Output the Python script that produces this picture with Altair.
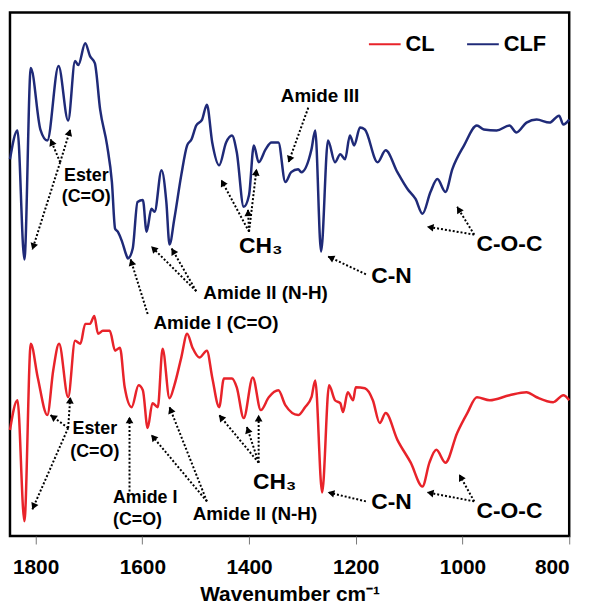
import math
import altair as alt
import pandas as pd

# ---- spectra (wavenumber cm-1, relative intensity) ----
clf_wn = [1848, 1834, 1821, 1809, 1791, 1778, 1757, 1739, 1726, 1720, 1707, 1698, 1689, 1679,
          1666, 1657, 1651, 1646, 1638, 1629, 1627, 1618, 1609, 1599, 1592, 1583, 1577, 1564,
          1555, 1549, 1540, 1527, 1516, 1508, 1499, 1488, 1479, 1469, 1456, 1443, 1432, 1423,
          1410, 1400, 1391, 1382, 1369, 1358, 1345, 1332, 1321, 1308, 1302, 1283, 1276, 1265,
          1252, 1239, 1229, 1220, 1211, 1203, 1192, 1183, 1159, 1144, 1122, 1103, 1088, 1075,
          1060, 1047, 1032, 1019, 997, 973, 960, 936, 912, 899, 880, 861, 837, 819, 811, 800]
clf_val = [380, 409, 279, 472, 410, 399, 474, 419, 479, 475, 497, 484, 477, 430,
           394, 357, 310, 307, 297, 282, 280, 290, 337, 339, 307, 330, 327, 369,
           337, 294, 320, 364, 394, 400, 414, 420, 435, 397, 374, 397, 404, 387,
           332, 344, 394, 377, 390, 397, 397, 357, 367, 370, 367, 390, 409, 287,
           399, 377, 385, 380, 404, 394, 412, 410, 377, 389, 367, 350, 340, 325,
           347, 360, 347, 370, 394, 414, 410, 409, 414, 407, 417, 420, 417, 424, 415, 420]

cl_wn = [1848, 1834, 1821, 1809, 1796, 1778, 1767, 1756, 1739, 1726, 1716, 1707, 1698, 1690,
         1683, 1674, 1661, 1651, 1642, 1633, 1620, 1607, 1599, 1590, 1581, 1571, 1562, 1549,
         1540, 1527, 1516, 1506, 1493, 1479, 1469, 1456, 1447, 1432, 1423, 1410, 1393, 1378,
         1363, 1345, 1332, 1308, 1295, 1283, 1276, 1263, 1250, 1239, 1229, 1224, 1215, 1205,
         1200, 1183, 1168, 1155, 1144, 1122, 1097, 1075, 1062, 1049, 1032, 1010, 991, 973,
         949, 912, 880, 861, 830, 811, 800]
cl_val = [107, 137, 15, 194, 160, 122, 167, 194, 140, 197, 194, 214, 214, 222,
          204, 207, 207, 187, 190, 150, 130, 152, 147, 109, 134, 130, 189, 139,
          152, 180, 204, 190, 180, 187, 160, 130, 159, 159, 150, 119, 160, 127,
          140, 147, 132, 122, 130, 140, 157, 44, 152, 137, 134, 125, 145, 137,
          150, 149, 137, 114, 124, 97, 74, 50, 74, 87, 74, 104, 124, 140,
          137, 142, 145, 140, 135, 142, 137]

series_names = ["CL", "CLF"]
series_colors = ["#E8232A", "#1F2A78"]

# ---- annotation labels ----
lab_text = ["Ester", "(C=O)", "CH\u2083", "Amide III", "Amide II (N-H)", "Amide I (C=O)",
            "C-N", "C-O-C",
            "Ester", "(C=O)", "Amide II (N-H)", "CH\u2083", "C-N", "C-O-C"]
lab_wn = [1705, 1705, 1378, 1267, 1369, 1462, 1133, 912,
          1689, 1689, 1389, 1352, 1133, 912]
lab_val = [363, 342, 292, 444, 245, 215, 262, 294,
           108, 85, 22, 54, 34, 25]
lab_size = [18, 18, 23, 19, 19, 19, 23, 23,
            18, 18, 19, 23, 23, 23]

# left-aligned two-line label (bottom Amide I)
left_text = ["Amide I", "(C=O)"]
left_wn = [1655, 1655]
left_val = [38, 16]

# ---- arrows: start -> end (arrowhead at end) ----
arr_wn1 = [1754, 1754, 1754, 1400, 1400, 1400, 1289, 1499, 1499, 1590, 1181, 978, 978,
           1739, 1739, 1739, 1624, 1479, 1479, 1382, 1382, 1382, 1181, 978, 978]
arr_v1 = [377, 377, 377, 307, 307, 307, 432, 247, 247, 224, 264, 304, 304,
          109, 109, 109, 45, 35, 35, 74, 74, 74, 35, 35, 35]
arr_wn2 = [1772, 1735, 1806, 1452, 1402, 1386, 1326, 1583, 1545, 1622, 1252, 1066, 1010,
           1772, 1735, 1806, 1624, 1583, 1549, 1456, 1404, 1382, 1252, 1066, 1006]
arr_v2 = [400, 410, 289, 359, 329, 370, 377, 292, 290, 279, 282, 312, 332,
          122, 140, 27, 120, 102, 130, 122, 110, 122, 44, 44, 62]

# ---- layout ----
W, H = 564, 528
X_DOM = [1848, 800]
Y_DOM = [0, 528]
pxw = W / (X_DOM[0] - X_DOM[1])
pxv = H / (Y_DOM[1] - Y_DOM[0])

FONT = "Liberation Sans"

spec_df = pd.concat([
    pd.DataFrame({"wn": cl_wn, "val": cl_val, "series": "CL", "order": range(len(cl_wn))}),
    pd.DataFrame({"wn": clf_wn, "val": clf_val, "series": "CLF", "order": range(len(clf_wn))}),
])

heads = []
for a, b, c, d in zip(arr_wn1, arr_v1, arr_wn2, arr_v2):
    dx = -(c - a) * pxw
    dy = -(d - b) * pxv
    L = math.hypot(dx, dy)
    ux, uy = dx / L, dy / L
    ang = math.degrees(math.atan2(dx, -dy)) % 360
    back = 3.0
    hx = c + (ux * back) / pxw
    hy = d + (uy * back) / pxv
    heads.append({"wn": hx, "val": hy, "ang": ang})
head_df = pd.DataFrame(heads)

arr_df = pd.DataFrame({"wn1": arr_wn1, "v1": arr_v1, "wn2": arr_wn2, "v2": arr_v2})
lab_df = pd.DataFrame({"t": lab_text, "wn": lab_wn, "val": lab_val, "fs": lab_size})
left_df = pd.DataFrame({"t": left_text, "wn": left_wn, "val": left_val})

xs = alt.Scale(domain=X_DOM, nice=False, zero=False)
ys = alt.Scale(domain=Y_DOM, nice=False, zero=False)

x_axis = alt.Axis(values=[1800, 1600, 1400, 1200, 1000, 800], format="d", grid=False,
                  domain=False, ticks=True, tickSize=8, tickWidth=1, tickColor="#777777",
                  labelFont=FONT, labelFontSize=21, labelFontWeight="bold", labelColor="black",
                  labelPadding=13, title="Wavenumber cm\u207b\u00b9", titleFont=FONT,
                  titleFontSize=21, titleFontWeight="bold", titleColor="black", titlePadding=6)

lines = alt.Chart(spec_df).mark_line(strokeWidth=2.5, interpolate="monotone").encode(
    x=alt.X("wn:Q", scale=xs, axis=x_axis),
    y=alt.Y("val:Q", scale=ys, axis=None),
    color=alt.Color("series:N", scale=alt.Scale(domain=series_names, range=series_colors),
                    legend=alt.Legend(title=None, orient="none", legendX=361, legendY=15,
                                      direction="horizontal", symbolType="stroke",
                                      symbolSize=1024, symbolStrokeWidth=2,
                                      labelFont=FONT, labelFontSize=22, labelFontWeight="bold",
                                      labelColor="black", labelOffset=4, columnPadding=28,
                                      padding=0)),
    detail="series:N",
    order="order:Q",
)

rules = alt.Chart(arr_df).mark_rule(color="black", strokeWidth=2, strokeDash=[2, 2]).encode(
    x=alt.X("wn1:Q", scale=xs), y=alt.Y("v1:Q", scale=ys), x2="wn2:Q", y2="v2:Q")

arrowheads = alt.Chart(head_df).mark_point(shape="triangle-up", filled=True, color="black",
                                           size=60, opacity=1).encode(
    x=alt.X("wn:Q", scale=xs), y=alt.Y("val:Q", scale=ys), angle=alt.Angle("ang:Q", scale=None))

labels = alt.Chart(lab_df).mark_text(font=FONT, fontWeight="bold", color="black",
                                     align="center", baseline="middle").encode(
    x=alt.X("wn:Q", scale=xs), y=alt.Y("val:Q", scale=ys), text="t:N",
    size=alt.Size("fs:Q", scale=None, legend=None))

left_labels = alt.Chart(left_df).mark_text(font=FONT, fontWeight="bold", color="black",
                                           align="left", baseline="middle", fontSize=18).encode(
    x=alt.X("wn:Q", scale=xs), y=alt.Y("val:Q", scale=ys), text="t:N")

chart = alt.layer(lines, rules, arrowheads, labels, left_labels).properties(
    width=W, height=H,
    background="white",
    padding={"left": 2, "top": 2, "right": 25, "bottom": 70},
    autosize=alt.AutoSizeParams(type="none"),
).configure_view(stroke="black", strokeWidth=2.5)

chart.save("out.html", embed_options={"renderer": "svg", "actions": False})
